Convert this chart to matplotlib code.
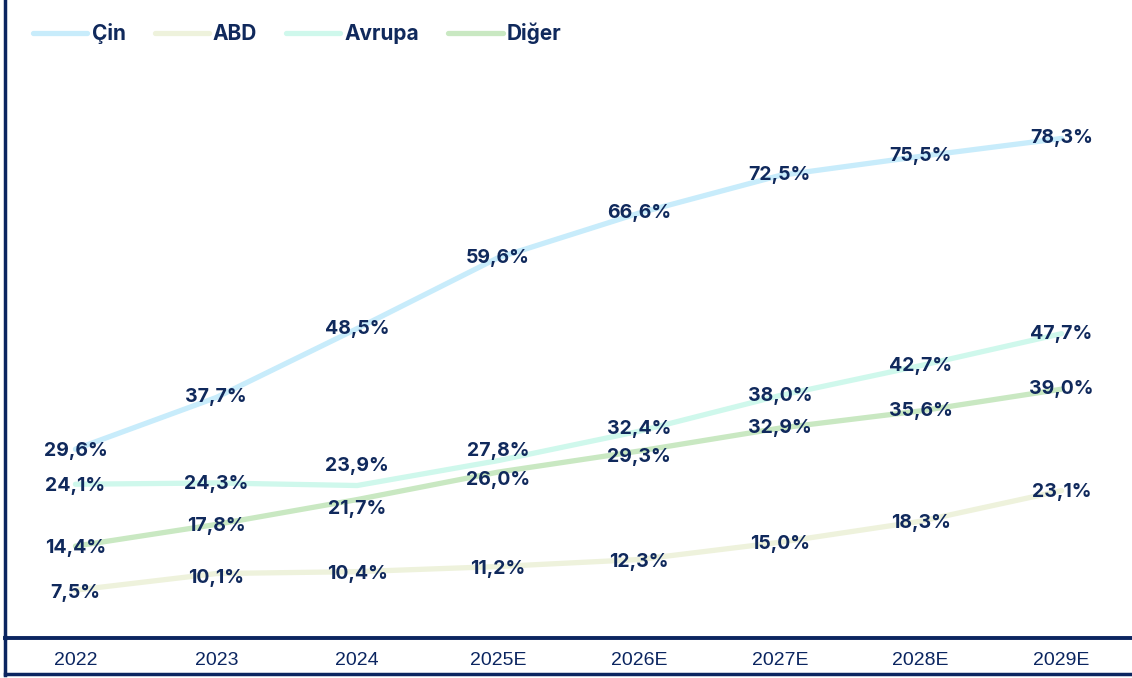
import matplotlib.pyplot as plt
from matplotlib.lines import Line2D

years = ["2022", "2023", "2024", "2025E", "2026E", "2027E", "2028E", "2029E"]
cin = [29.6, 37.7, 48.5, 59.6, 66.6, 72.5, 75.5, 78.3]
abd = [7.5, 10.1, 10.4, 11.2, 12.3, 15.0, 18.3, 23.1]
avrupa = [24.1, 24.3, 23.9, 27.8, 32.4, 38.0, 42.7, 47.7]
diger = [14.4, 17.8, 21.7, 26.0, 29.3, 32.9, 35.6, 39.0]

navy = "#0b2560"
label_color = "#10295c"
series = [
    ("Çin", cin, "#c8ecfb"),
    ("ABD", abd, "#eef2dc"),
    ("Avrupa", avrupa, "#cff8ec"),
    ("Diğer", diger, "#c9e8c2"),
]
# label vertical offsets in points (positive = up)
offsets = {
    "Çin": [-1, 0, 0, 0, 0, 0, 0, 0],
    "ABD": [-2, -3, -2, -2, -2, -1, -1, -1],
    "Avrupa": [-1, -1, 14, 7, 2, 0, 0, 0],
    "Diğer": [-1, -1, -7, -6, -4, 0, 0, 0],
}

fig = plt.figure(figsize=(11.32, 6.78), dpi=100)
ax = fig.add_axes([5 / 1132, 40 / 678, 1 - 5 / 1132, 638 / 678])

x = list(range(len(years)))
for name, vals, col in series:
    ax.plot(x, vals, color=col, linewidth=3.8, solid_capstyle="round", label=name, zorder=2)
    for i, v in enumerate(vals):
        ax.annotate(f"{v:.1f}%".replace(".", ","), (i, v), xytext=(0, offsets[name][i]),
                    textcoords="offset points", ha="center", va="center",
                    fontsize=14, fontweight="bold", family="Inter", color=label_color, zorder=3)

ax.set_xlim(-0.5, 7.5)
ax.set_ylim(0, 100)
ax.set_yticks([])
ax.set_xticks(x)
ax.set_xticklabels(years, family="Liberation Sans", fontsize=14, color=navy)
ax.tick_params(axis="x", length=0, pad=10)
for s in ["top", "right"]:
    ax.spines[s].set_visible(False)
ax.spines["left"].set_color(navy)
ax.spines["left"].set_linewidth(2.5)
ax.spines["bottom"].set_color(navy)
ax.spines["bottom"].set_linewidth(2.8)

# bottom frame line and left extension
fig.add_artist(Line2D([5 / 1132, 1], [4.5 / 678, 4.5 / 678], color=navy, linewidth=2.5))
fig.add_artist(Line2D([5 / 1132, 5 / 1132], [3.5 / 678, 41 / 678], color=navy, linewidth=2.5))

leg = ax.legend(loc="center left", bbox_to_anchor=(0.025, 0.948), ncol=4, frameon=False,
                borderaxespad=0, borderpad=0,
                handlelength=2.6, handletextpad=0.2, columnspacing=1.4,
                prop={"family": "Inter", "weight": "bold", "size": 15})
for t in leg.get_texts():
    t.set_color(label_color)
for h in leg.get_lines():
    h.set_linewidth(3.8)

fig.savefig("out.png", dpi=100)
